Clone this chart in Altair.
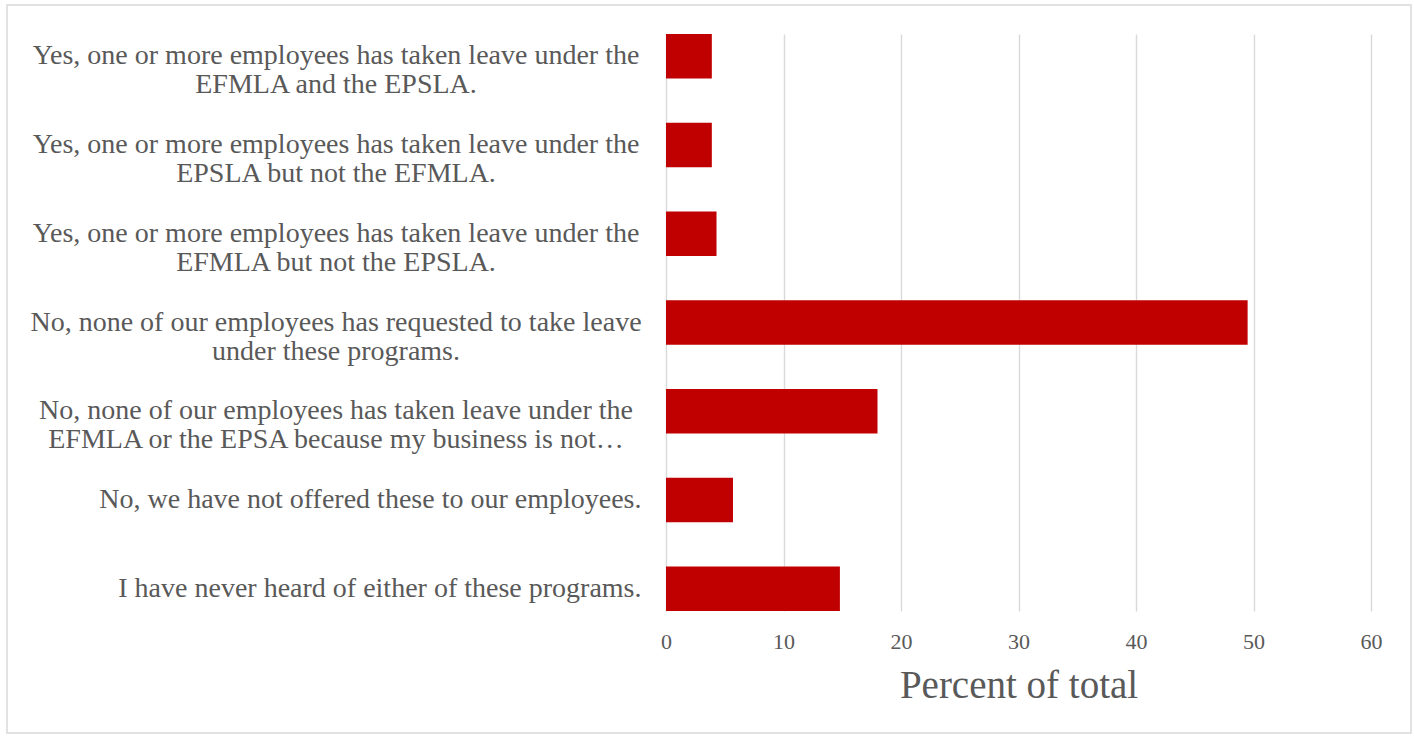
import altair as alt
import pandas as pd

line1 = [
    "Yes, one or more employees has taken leave under the",
    "Yes, one or more employees has taken leave under the",
    "Yes, one or more employees has taken leave under the",
    "No, none of our employees has requested to take leave",
    "No, none of our employees has taken leave under the",
    "No, we have not offered these to our employees.",
    "I have never heard of either of these programs.",
]
line2 = [
    "EFMLA and the EPSLA.",
    "EPSLA but not the EFMLA.",
    "EFMLA but not the EPSLA.",
    "under these programs.",
    "EFMLA or the EPSA because my business is not…",
    "",
    "",
]
values = [3.9, 3.9, 4.3, 49.5, 18.0, 5.7, 14.8]
x_ticks = [0, 10, 20, 30, 40, 50, 60]

cats = [a + ("\n" + b if b else "") for a, b in zip(line1, line2)]
df = pd.DataFrame({"cat": cats, "value": values})

FONT = "Liberation Serif"
GREY = "#595959"
LABEL_SIZE = 28

y_enc = alt.Y(
    "cat:N",
    sort=cats,
    scale=alt.Scale(paddingInner=0.5, paddingOuter=0),
    axis=alt.Axis(
        title=None,
        domain=False,
        ticks=False,
        labelPadding=25,
        labelAlign="right",
        labelBaseline="middle",
        labelFont=FONT,
        labelFontSize=LABEL_SIZE,
        labelColor=GREY,
        labelLimit=0,
        labelExpr="indexof(datum.label, '\\n') >= 0 ? '' : datum.label",
    ),
)

bars = alt.Chart(df).mark_bar(color="#C00000").encode(
    x=alt.X(
        "value:Q",
        scale=alt.Scale(domain=[0, 60], nice=False),
        axis=alt.Axis(
            values=x_ticks,
            title="Percent of total",
            titleFont=FONT,
            titleFontSize=39,
            titleFontWeight="normal",
            titleColor=GREY,
            titlePadding=14,
            labelFont=FONT,
            labelFontSize=22,
            labelColor=GREY,
            labelPadding=20,
            labelFlush=False,
            ticks=False,
            domain=False,
            grid=True,
            gridColor="#d9d9d9",
            gridWidth=1.4,
        ),
    ),
    y=y_enc,
)

two_line = alt.Chart(df).transform_filter(
    "indexof(datum.cat, '\\n') >= 0"
).mark_text(
    align="center",
    baseline="middle",
    lineBreak="\n",
    lineHeight=29,
    font=FONT,
    fontSize=LABEL_SIZE,
    color=GREY,
).encode(
    y=alt.Y("cat:N", sort=cats),
    x=alt.value(-330),
    text="cat:N",
)

border = alt.Chart(pd.DataFrame({"a": [0]})).mark_rect(
    fillOpacity=0, stroke="#d9d9d9", strokeWidth=1.5
).encode(
    x=alt.value(-659), x2=alt.value(745), y=alt.value(-29), y2=alt.value(699)
)

chart = alt.layer(border, bars, two_line).properties(
    width=705,
    height=577,
    autosize=alt.AutoSizeParams(type="none"),
    padding={"left": 666, "top": 34, "right": 43, "bottom": 125},
    background="white",
).configure_view(stroke=None)

chart.save("out.html", embed_options={"renderer": "svg", "actions": False})
